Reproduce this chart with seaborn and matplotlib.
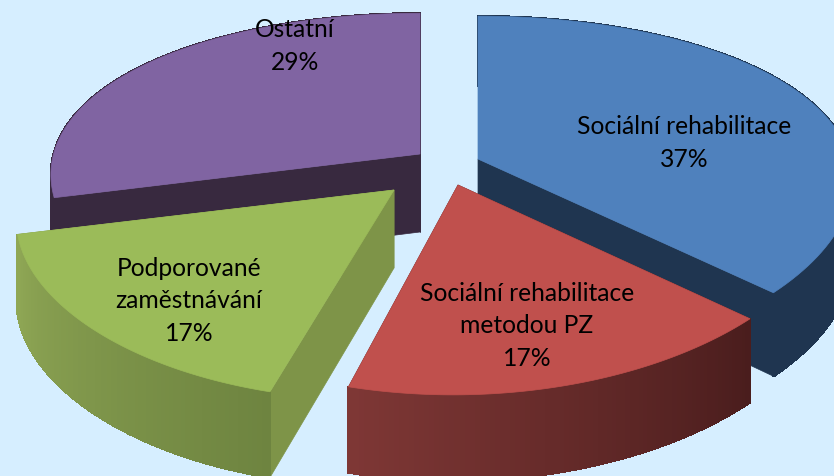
import numpy as np
import matplotlib
matplotlib.use("Agg")
import matplotlib.pyplot as plt
from matplotlib.patches import Polygon
import seaborn as sns

labels = ["Sociální rehabilitace\n37%", "Sociální rehabilitace\nmetodou PZ\n17%",
          "Podporované\nzaměstnávání\n17%", "Ostatní\n29%"]
shares = [37, 17, 17, 29]

top_colors = ["#4F81BD", "#C0504D", "#9BBB59", "#8064A2"]
side_from = ["#1F3550", "#4A1D1D", "#6E8440", "#38293F"]
side_to = ["#1F3550", "#7E3735", "#8FA755", "#38293F"]
edge_colors = ["#1F3550", "#4A1D1D", "#7E9448", "#38293F"]
background = "#D6EEFF"

# where the tip of each exploded slice ends up, and where its label goes
tips = [(478, 160), (458, 186), (394, 191), (420, 155)]
label_pos = [(684, 143), (527, 326), (189, 301), (295, 46)]
draw_order = [3, 0, 2, 1]

radius = 372
height = 170
persp_x = 0.12
persp_y = 0.19
depth = 78
# the front of the left slices leans left, the purple one sits a bit smaller
slice_shear = [0, 5, 20, 0]
slice_scale = [1, 1, 1, 0.985]

sns.set_theme(style="white")
plt.rcParams["font.family"] = ["Lato", "DejaVu Sans"]


def project(i, theta):
    # theta runs clockwise from the top of the pie
    x = np.sin(theta)
    y = -np.cos(theta)
    sx = radius * x / (1 - persp_x * y) - slice_shear[i] * y
    sy = height * y / (1 - persp_y * y)
    return tips[i][0] + slice_scale[i] * sx, tips[i][1] + slice_scale[i] * sy, y


def drop(y):
    return depth + 8 * y


def draw_slice(ax, start, end, i):
    tip = tips[i]
    thetas = np.linspace(start, end, 90)
    px, py, ys = project(i, thetas)

    # flat cut faces
    for k in (0, -1):
        quad = [tip, (px[k], py[k]), (px[k], py[k] + drop(ys[k])), (tip[0], tip[1] + depth)]
        ax.add_patch(Polygon(quad, fc=edge_colors[i], ec=edge_colors[i], lw=0.5))

    # outer wall, one strip per step for the gradient
    strip_colors = sns.blend_palette([side_from[i], side_to[i]], len(thetas) - 1)
    for k in range(len(thetas) - 1):
        quad = [(px[k], py[k]), (px[k + 1], py[k + 1]),
                (px[k + 1], py[k + 1] + drop(ys[k + 1])), (px[k], py[k] + drop(ys[k]))]
        ax.add_patch(Polygon(quad, fc=strip_colors[k], ec=strip_colors[k], lw=1, antialiased=False))

    top = [tip] + list(zip(px, py))
    ax.add_patch(Polygon(top, fc=top_colors[i], ec=top_colors[i], lw=0.5))


fig, ax = plt.subplots(figsize=(8.34, 4.77), dpi=100)
fig.patch.set_facecolor(background)
ax.set_position([0, 0, 1, 1])
ax.set_facecolor(background)
ax.set_xlim(0, 834)
ax.set_ylim(477, 0)
ax.axis("off")

edges = np.cumsum([0] + shares) / sum(shares) * 2 * np.pi
for i in draw_order:
    draw_slice(ax, edges[i], edges[i + 1], i)

for text, pos in zip(labels, label_pos):
    ax.text(pos[0], pos[1], text, ha="center", va="center", fontsize=17.7,
            color="black", linespacing=1.5)

fig.savefig("out.png", dpi=100, facecolor=background)
